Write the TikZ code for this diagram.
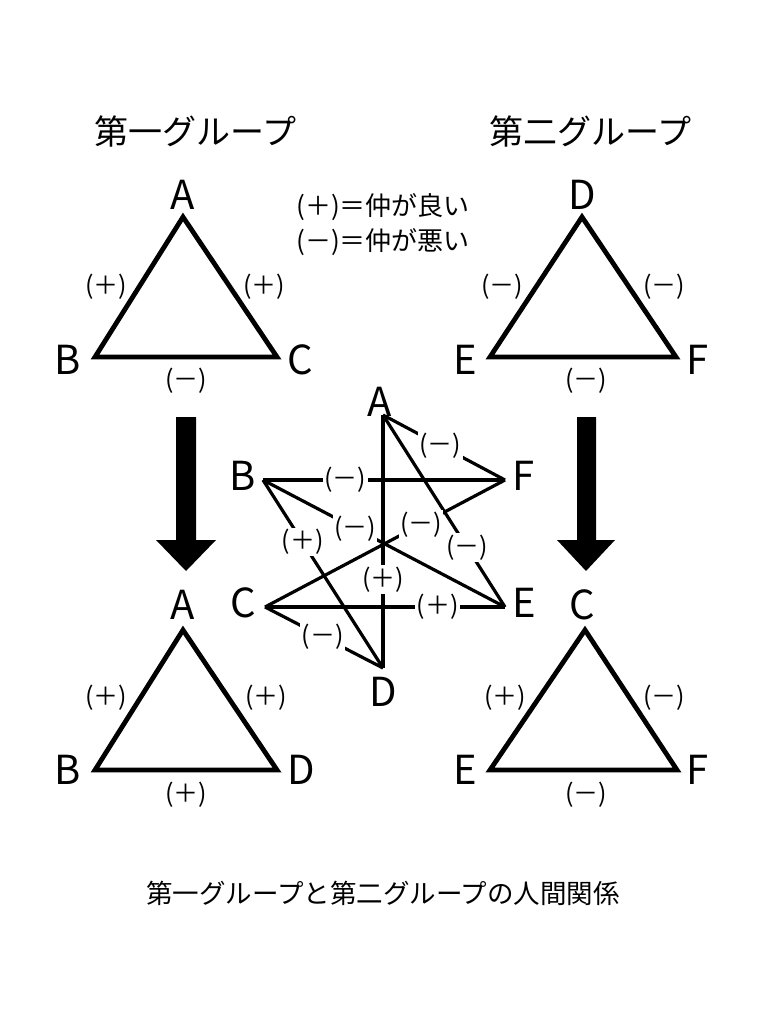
\documentclass[tikz,border=0pt]{standalone}
\usepackage{fontspec}
\setmainfont{Noto Sans CJK JP}
\begin{document}
\begin{tikzpicture}[x=1pt,y=-1pt,
  tri/.style={line width=4.8pt},
  vlab/.style={font=\fontsize{40}{40}\selectfont, inner sep=0pt},
  elab/.style={font=\fontsize{25}{25}\selectfont, inner sep=0pt},
  clab/.style={font=\fontsize{25}{25}\selectfont, inner sep=1.5pt, fill=white},
  cedge/.style={line width=3.2pt},
  title/.style={font=\fontsize{34}{34}\selectfont, inner sep=0pt},
  legend/.style={font=\fontsize{26}{26}\selectfont, inner sep=0pt},
  bigarrow/.style={fill=black}]
\useasboundingbox[fill=white] (0,0) rectangle (768,1024);

% titles
\node[title] (t1) at (195,131) {第一グループ};
\node[title] (t2) at (590,131) {第二グループ};
\node[legend] (lg1) at (383,207) {(＋)＝仲が良い};
\node[legend] (lg2) at (383,242) {(－)＝仲が悪い};

% top-left triangle
\coordinate (tlA) at (183,217);
\coordinate (tlB) at (95,357);
\coordinate (tlC) at (277,357);
\draw[tri] (tlA) -- (tlB) -- (tlC) -- cycle;
\node[vlab] (tlAl) at (183,195) {A};
\node[vlab] (tlBl) at (68,360) {B};
\node[vlab] (tlCl) at (300,360) {C};
\node[elab] (tle1) at (106,287) {(＋)};
\node[elab] (tle2) at (264,287) {(＋)};
\node[elab] (tle3) at (186,381) {(－)};

% top-right triangle
\coordinate (trD) at (582,217);
\coordinate (trE) at (490,357);
\coordinate (trF) at (676,357);
\draw[tri] (trD) -- (trE) -- (trF) -- cycle;
\node[vlab] (trDl) at (582,195) {D};
\node[vlab] (trEl) at (465,360) {E};
\node[vlab] (trFl) at (698,360) {F};
\node[elab] (tre1) at (502,287) {(－)};
\node[elab] (tre2) at (664,287) {(－)};
\node[elab] (tre3) at (586,381) {(－)};

% big arrows
\fill[bigarrow] (176,417) -- (196,417) -- (196,540) -- (216,540) -- (186,571) -- (156,540) -- (176,540) -- cycle;
\fill[bigarrow] (577,417) -- (596,417) -- (596,540) -- (615,540) -- (586,571) -- (557,540) -- (577,540) -- cycle;

% central diagram
\coordinate (cA) at (383,415);
\coordinate (cB) at (263,480);
\coordinate (cF) at (505,480);
\coordinate (cC) at (265,607);
\coordinate (cE) at (505,607);
\coordinate (cD) at (383,668);
\node[vlab] (cAl) at (380,402) {A};
\node[vlab] (cBl) at (243,476) {B};
\node[vlab] (cFl) at (524,476) {F};
\node[vlab] (cCl) at (243,603) {C};
\node[vlab] (cEl) at (524,603) {E};
\node[vlab] (cDl) at (383,692) {D};

\draw[cedge] (cA) -- node[clab,pos=0.65] {(＋)} (cD);
\draw[cedge] (cB) -- node[clab,pos=0.34] {(－)} (cF);
\draw[cedge] (cC) -- node[clab,pos=0.72] {(＋)} (cE);
\draw[cedge] (cA) -- node[clab,pos=0.47] {(－)} (cF);
\draw[cedge] (cA) -- node[clab,pos=0.69] {(－)} (cE);
\draw[cedge] (cB) -- node[clab,pos=0.38] {(－)} (cE);
\draw[cedge] (cF) -- node[clab,pos=0.35] {(－)} (cC);
\draw[cedge] (cB) -- node[clab,pos=0.33] {(＋)} (cD);
\draw[cedge] (cC) -- node[clab,pos=0.49] {(－)} (cD);

% bottom-left triangle
\coordinate (blA) at (183,630);
\coordinate (blB) at (95,770);
\coordinate (blD) at (277,770);
\draw[tri] (blA) -- (blB) -- (blD) -- cycle;
\node[vlab] (blAl) at (183,605) {A};
\node[vlab] (blBl) at (68,770) {B};
\node[vlab] (blDl) at (301,770) {D};
\node[elab] (ble1) at (106,698) {(＋)};
\node[elab] (ble2) at (266,698) {(＋)};
\node[elab] (ble3) at (186,795) {(＋)};

% bottom-right triangle
\coordinate (brC) at (585,630);
\coordinate (brE) at (490,770);
\coordinate (brF) at (677,770);
\draw[tri] (brC) -- (brE) -- (brF) -- cycle;
\node[vlab] (brCl) at (582,605) {C};
\node[vlab] (brEl) at (465,770) {E};
\node[vlab] (brFl) at (698,770) {F};
\node[elab] (bre1) at (505,698) {(＋)};
\node[elab] (bre2) at (664,698) {(－)};
\node[elab] (bre3) at (586,795) {(－)};

% caption
\node[font=\fontsize{26.5}{26.5}\selectfont, inner sep=0pt] (cap) at (383,893) {第一グループと第二グループの人間関係};
\end{tikzpicture}
\end{document}
